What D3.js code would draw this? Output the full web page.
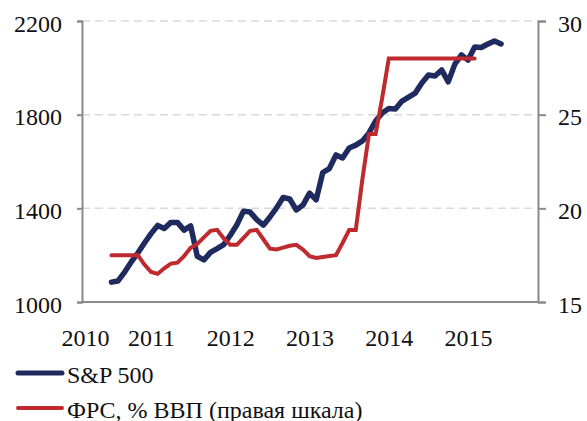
<!DOCTYPE html>
<html>
<head>
<meta charset="utf-8">
<script src="https://cdn.jsdelivr.net/npm/d3@7"></script>
<style>
  html, body { margin: 0; padding: 0; background: #fff; }
  svg { display: block; }
  text { font-family: "Liberation Serif", "Times New Roman", serif; fill: #111; }
</style>
</head>
<body>
<svg id="chart" width="587" height="421"></svg>
<script>
// ---- data ----
const months = [
  "2010-07","2010-08","2010-09","2010-10","2010-11","2010-12",
  "2011-01","2011-02","2011-03","2011-04","2011-05","2011-06","2011-07","2011-08","2011-09","2011-10","2011-11","2011-12",
  "2012-01","2012-02","2012-03","2012-04","2012-05","2012-06","2012-07","2012-08","2012-09","2012-10","2012-11","2012-12",
  "2013-01","2013-02","2013-03","2013-04","2013-05","2013-06","2013-07","2013-08","2013-09","2013-10","2013-11","2013-12",
  "2014-01","2014-02","2014-03","2014-04","2014-05","2014-06","2014-07","2014-08","2014-09","2014-10","2014-11","2014-12",
  "2015-01","2015-02","2015-03","2015-04","2015-05","2015-06"
];
const sp500 = [
  1085, 1090, 1128, 1171, 1209, 1252,
  1292, 1327, 1314, 1340, 1340, 1307, 1325, 1195, 1180, 1212, 1228, 1245,
  1285, 1330, 1388, 1384, 1352, 1328, 1363, 1402, 1446, 1440, 1393, 1414,
  1465, 1436, 1553, 1570, 1628, 1615, 1658, 1670, 1688, 1722, 1773, 1807,
  1826, 1824, 1858, 1875, 1892, 1935, 1969, 1965, 1991, 1940, 2016, 2055,
  2033, 2089, 2087, 2102, 2115, 2102
];
// Fed balance sheet, % of GDP (right axis), Jul 2010 .. Feb 2015
const fedGdp = [
  17.5, 17.5, 17.5, 17.5, 17.5, 17.0,
  16.6, 16.5, 16.8, 17.05, 17.1, 17.45, 17.9, 18.1, 18.45, 18.8, 18.85, 18.4,
  18.05, 18.05, 18.42, 18.8, 18.85, 18.35, 17.85, 17.8, 17.9, 18.0, 18.05, 17.8,
  17.45, 17.35, 17.4, 17.45, 17.5, 18.15, 18.85, 18.85, 21.55, 23.97, 23.97, 25.9,
  28.0, 28.0, 28.0, 28.0, 28.0, 28.0, 28.0, 28.0, 28.0, 28.0, 28.0, 28.0,
  28.0, 28.0
];
const leftTicks = [1000, 1400, 1800, 2200];
const rightTicks = [15, 20, 25, 30];
const yearLabels = ["2010", "2011", "2012", "2013", "2014", "2015"];
const yearLabelMonths = ["2010-03", "2011-01", "2012-01", "2013-01", "2014-01", "2015-01"];
const seriesNames = ["S&P 500", "ФРС, % ВВП (правая шкала)"];
const colors = ["#1f2b5e", "#bf2a2f"];

// ---- layout ----
const svg = d3.select("#chart");
const plot = { left: 82, right: 538, top: 21, bottom: 302 };
const monthIndex = s => { const [y, m] = s.split("-").map(Number); return (y - 2010) * 12 + (m - 1); };

const x = d3.scaleLinear().domain([1.545, 70.59]).range([plot.left, plot.right]);
const yL = d3.scaleLinear().domain([1000, 2200]).range([plot.bottom, plot.top]);
const yR = d3.scaleLinear().domain([15, 30]).range([plot.bottom, plot.top]);

const axisColor = "#8a8a8a";

// grid lines
svg.append("g").selectAll("line")
  .data(leftTicks.filter(t => t > 1000))
  .join("line")
  .attr("x1", plot.left).attr("x2", plot.right)
  .attr("y1", d => yL(d)).attr("y2", d => yL(d))
  .attr("stroke", "#d9d9d9").attr("stroke-width", 1.5)
  .attr("stroke-dasharray", "8,5");

// left axis
const gL = svg.append("g").attr("transform", `translate(${plot.left},0)`)
  .call(d3.axisLeft(yL).tickValues(leftTicks).tickSize(5).tickPadding(15).tickFormat(d3.format("d")));
// right axis
const gR = svg.append("g").attr("transform", `translate(${plot.right},0)`)
  .call(d3.axisRight(yR).tickValues(rightTicks).tickSize(8).tickPadding(12).tickFormat(d3.format("d")));
[gL, gR].forEach(g => {
  g.select(".domain").attr("stroke", axisColor).attr("stroke-width", 2);
  g.selectAll(".tick line").attr("stroke", axisColor).attr("stroke-width", 2);
  g.selectAll(".tick text").attr("font-size", 24).attr("dy", "0.42em")
    .style("font-family", '"Liberation Serif", "Times New Roman", serif').attr("fill", "#111");
});

// bottom axis
const gB = svg.append("g").attr("transform", `translate(0,${plot.bottom})`)
  .call(d3.axisBottom(x)
    .tickValues(yearLabelMonths.map(monthIndex))
    .tickFormat((d, i) => yearLabels[i])
    .tickSize(0).tickPadding(27));
gB.select(".domain").remove();
gB.selectAll(".tick text").attr("font-size", 24)
  .style("font-family", '"Liberation Serif", "Times New Roman", serif').attr("fill", "#111");
svg.append("line")
  .attr("x1", plot.left).attr("x2", plot.right)
  .attr("y1", plot.bottom).attr("y2", plot.bottom)
  .attr("stroke", axisColor).attr("stroke-width", 2);

// lines
const spData = months.map((m, i) => ({ t: monthIndex(m), v: sp500[i] }));
const fedData = fedGdp.map((v, i) => ({ t: monthIndex(months[i]), v }));

svg.append("path").datum(spData)
  .attr("fill", "none").attr("stroke", colors[0]).attr("stroke-width", 5.5)
  .attr("stroke-linejoin", "round").attr("stroke-linecap", "round")
  .attr("d", d3.line().x(d => x(d.t)).y(d => yL(d.v)));

svg.append("path").datum(fedData)
  .attr("fill", "none").attr("stroke", colors[1]).attr("stroke-width", 4)
  .attr("stroke-linejoin", "miter").attr("stroke-linecap", "round")
  .attr("d", d3.line().x(d => x(d.t)).y(d => yR(d.v)));

// legend
const legend = svg.append("g");
const legendRows = [{ y: 373, w: 5 }, { y: 408, w: 4 }];
seriesNames.forEach((name, i) => {
  const row = legend.append("g").attr("transform", `translate(0,${legendRows[i].y})`);
  row.append("line").attr("x1", 18).attr("x2", 62).attr("y1", 0).attr("y2", 0)
    .attr("stroke", colors[i]).attr("stroke-width", legendRows[i].w).attr("stroke-linecap", "round");
  row.append("text").attr("x", 67).attr("y", 0).attr("dy", "0.42em")
    .attr("font-size", 24).text(name);
});
</script>
</body>
</html>
